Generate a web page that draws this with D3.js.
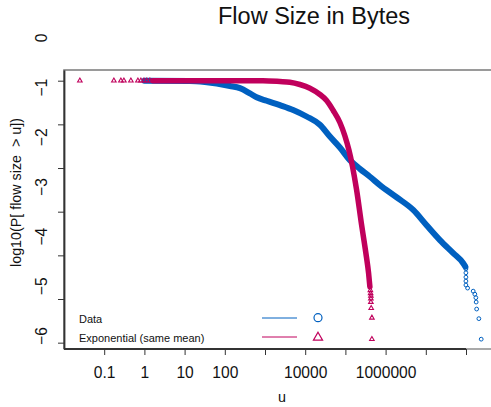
<!DOCTYPE html>
<html>
<head>
<meta charset="utf-8">
<script src="https://cdn.jsdelivr.net/npm/d3@7"></script>
<style>
  html, body { margin: 0; padding: 0; background: #ffffff; }
  svg { display: block; font-family: "Liberation Sans", Arial, Helvetica, sans-serif; }
</style>
</head>
<body>
<svg id="chart" width="491" height="407"></svg>
<script>
// Axis ticks and their printed labels
const xTicks = [0.1, 1, 10, 100, 1e3, 1e4, 1e5, 1e6, 1e7, 1e8];
const xTickLabels = ["0.1", "1", "10", "100", "", "10000", "", "1000000", "", ""];
const yTicks = [0, -1, -2, -3, -4, -5, -6];
const yTickLabels = ["0", "\u22121", "\u22122", "\u22123", "\u22124", "\u22125", "\u22126"];

// Empirical CCDF of the measured flow sizes: dense body (u in bytes, log10 P[X > u])
const dataU    = [1, 13.5, 32, 134, 238, 421, 618, 1096, 2350, 5020, 10840, 23230, 41200, 72950,
                  129400, 229600, 407400, 721100, 1879000, 4864000, 10470000, 22440000, 48080000, 85110000, 96600000];
const dataLogP = [0, -0.005, -0.03, -0.12, -0.17, -0.29, -0.38, -0.46, -0.56, -0.67, -0.82, -1.01, -1.28, -1.53,
                  -1.82, -2.02, -2.20, -2.39, -2.67, -2.96, -3.31, -3.65, -3.95, -4.18, -4.26];
// sparse largest flows, drawn one by one
const dataTailU    = [99500000, 99500000, 99500000, 99500000, 99500000, 109600000, 151000000, 166000000,
                      176000000, 179000000, 184000000, 209000000, 239000000];
const dataTailLogP = [-4.31, -4.40, -4.50, -4.59, -4.68, -4.75, -4.82, -4.89, -4.97, -5.07, -5.23, -5.45, -5.92];

// Exponential sample with the same mean
const expHeadU    = [0.0248, 0.174, 0.26, 0.309, 0.461, 0.689, 0.818, 0.973, 1.15, 1.37];
const expHeadLogP = [0, 0, 0, 0, 0, 0, 0, 0, 0, 0];
const expU    = [1.63, 887, 2350, 4160, 7380, 13090, 23230, 34040, 49770, 72950, 97270, 122200,
                 151000, 190100, 252900, 323600, 377600, 406400];
const expLogP = [0, 0, -0.018, -0.034, -0.087, -0.172, -0.316, -0.453, -0.682, -0.957, -1.266, -1.587,
                 -1.976, -2.503, -3.304, -3.952, -4.41, -4.717];
const expTailU    = [418000, 424000, 430000, 430000, 430000, 438000, 456000, 456000];
const expTailLogP = [-4.80, -4.87, -4.93, -4.99, -5.07, -5.21, -5.43, -5.92];

const legendNames = ["Data", "Exponential (same mean)"];
const colData = "#0060c0";
const colExp = "#c0005c";

const svg = d3.select("#chart");
const plotLeft = 64, plotTop = 70, plotBottom = 349;

const x = d3.scaleLog().domain([0.01, 1e10]).range([plotLeft, plotLeft + 12 * 40.2]);
const y = d3.scaleLinear().domain([-6.145, 0.245]).range([plotBottom, plotTop]);
// positions of the printed y labels
const yLab = d3.scaleLinear().domain([-6, 0]).range([336, 38]);

// plot frame
svg.append("path")
  .attr("d", `M${plotLeft},${plotBottom}V${plotTop}H600`)
  .attr("fill", "none").attr("stroke", "#7a7a7a").attr("stroke-width", 1.6);
svg.append("line")
  .attr("x1", plotLeft).attr("x2", 491).attr("y1", plotBottom).attr("y2", plotBottom)
  .attr("stroke", "#8c8c8c").attr("stroke-width", 1.6);

// Curves
const plot = svg.append("g");
const line = d3.line().x(d => x(d[0])).y(d => y(d[1])).curve(d3.curveMonotoneX);

plot.append("path")
  .datum(d3.zip(dataU, dataLogP))
  .attr("d", line)
  .attr("fill", "none").attr("stroke", colData).attr("stroke-width", 6)
  .attr("stroke-linejoin", "round").attr("stroke-linecap", "round");
plot.selectAll("circle.tail")
  .data(d3.zip(dataTailU, dataTailLogP))
  .join("circle").attr("class", "tail")
  .attr("cx", d => x(d[0])).attr("cy", d => y(d[1])).attr("r", 1.9)
  .attr("fill", "none").attr("stroke", colData).attr("stroke-width", 1);

const tri = d3.symbol().type(d3.symbolTriangle).size(9);
plot.append("path")
  .datum(d3.zip(expU, expLogP))
  .attr("d", line)
  .attr("fill", "none").attr("stroke", colExp).attr("stroke-width", 5.5)
  .attr("stroke-linejoin", "round").attr("stroke-linecap", "round");
plot.selectAll("path.tri")
  .data(d3.zip(expHeadU.concat(expTailU), expHeadLogP.concat(expTailLogP)))
  .join("path").attr("class", "tri")
  .attr("d", tri)
  .attr("transform", d => `translate(${x(d[0])},${y(d[1])})`)
  .attr("fill", "none").attr("stroke", colExp).attr("stroke-width", 1.1);

// Axes
const xAxis = svg.append("g")
  .attr("transform", `translate(0,${plotBottom})`)
  .call(d3.axisBottom(x).tickValues(xTicks).tickSize(6).tickPadding(12)
        .tickFormat((d, i) => xTickLabels[i]));
xAxis.select(".domain").remove();
xAxis.selectAll("line").attr("stroke", "#333").attr("stroke-width", 1);
xAxis.selectAll("text").attr("font-size", 15.6).attr("fill", "#111")
  .attr("font-family", "Liberation Sans, Arial, sans-serif");
svg.append("line")
  .attr("x1", plotLeft).attr("x2", x(xTicks[xTicks.length - 1]))
  .attr("y1", plotBottom).attr("y2", plotBottom)
  .attr("stroke", "#333").attr("stroke-width", 1.8);

const yAxis = svg.append("g")
  .attr("transform", `translate(${plotLeft},0)`)
  .call(d3.axisLeft(y).tickValues(yTicks).tickSize(6).tickSizeOuter(0).tickFormat(""));
yAxis.select(".domain").attr("stroke", "#333").attr("stroke-width", 1.8);
yAxis.selectAll("line").attr("stroke", "#333").attr("stroke-width", 1);

svg.append("g").selectAll("text")
  .data(yTicks)
  .join("text")
  .attr("transform", d => `translate(47,${yLab(d)}) rotate(-90)`)
  .attr("text-anchor", "middle")
  .attr("font-size", 15.6).attr("fill", "#111")
  .text((d, i) => yTickLabels[i]);

// Titles
svg.append("text")
  .attr("x", 314).attr("y", 24).attr("text-anchor", "middle")
  .attr("font-size", 23.5).attr("fill", "#111")
  .text("Flow Size in Bytes");
svg.append("text")
  .attr("x", 282).attr("y", 401.5).attr("text-anchor", "middle")
  .attr("font-size", 14.3).attr("fill", "#111")
  .text("u");
svg.append("text")
  .attr("transform", "translate(20.5,192.5) rotate(-90)")
  .attr("text-anchor", "middle").style("white-space", "pre")
  .attr("font-size", 14.3).attr("fill", "#111")
  .text("log10(P[ flow size  > u])");

// Legend
const legend = svg.append("g").attr("font-size", 11).attr("fill", "#111");
const legRows = [322.5, 341.5];
legend.selectAll("text")
  .data(legendNames)
  .join("text")
  .attr("x", 79).attr("y", (d, i) => legRows[i])
  .text(d => d);
const legCols = [colData, colExp];
legend.selectAll("line")
  .data(legCols)
  .join("line")
  .attr("x1", 262).attr("x2", 297)
  .attr("y1", (d, i) => legRows[i] - 4.5).attr("y2", (d, i) => legRows[i] - 4.5)
  .attr("stroke", d => d).attr("stroke-width", 1);
legend.append("circle")
  .attr("cx", 318).attr("cy", legRows[0] - 4.8).attr("r", 4)
  .attr("fill", "none").attr("stroke", colData).attr("stroke-width", 1.2);
legend.append("path")
  .attr("d", d3.symbol().type(d3.symbolTriangle).size(36)())
  .attr("transform", `translate(318,${legRows[1] - 4})`)
  .attr("fill", "none").attr("stroke", colExp).attr("stroke-width", 1.2);
</script>
</body>
</html>
